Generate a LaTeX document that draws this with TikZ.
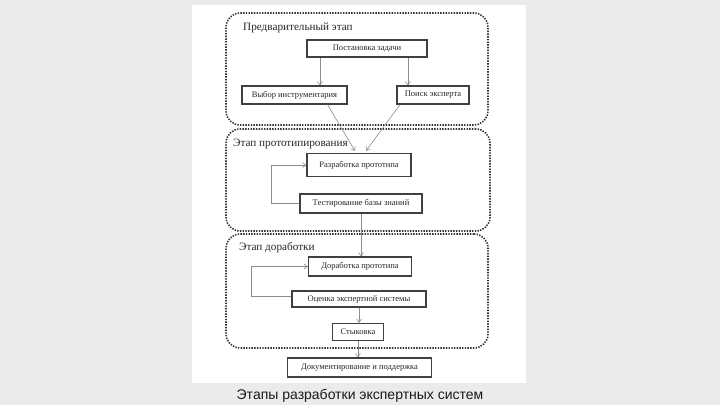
\documentclass[tikz,border=0pt]{standalone}
\usepackage{fontspec}
\setmainfont{Liberation Serif}
\newfontfamily\capfont{Liberation Sans}
\usetikzlibrary{arrows.meta}
\definecolor{slidegray}{HTML}{EBEBEB}

\begin{document}
\begin{tikzpicture}
      [x=1pt, y=-1pt,
      box/.style={draw=black!75, line width=1.1pt, fill=white, inner sep=0pt, font=\fontsize{8.5}{10}\selectfont, text=black!85},
      stage/.style={draw=black!80, line width=1.6pt, dash pattern=on 1.4pt off 1.3pt, rounded corners=14pt, inner sep=0pt},
      stagename/.style={anchor=west, inner sep=0pt, font=\fontsize{11.2}{13}\selectfont, text=black!85},
      link/.style={draw=black!45, line width=0.6pt, -{Straight Barb[length=3.5pt,width=5pt]}},
      ]
      \useasboundingbox[fill=slidegray] (0,0) rectangle (720,405);
      \fill[white] (192,5) rectangle (526,383);
      % stages
      \node[stage, minimum width=262, minimum height=112] (pre) at (357,69) {};
      \node[stage, minimum width=264, minimum height=102] (proto) at (358,180) {};
      \node[stage, minimum width=262, minimum height=114] (refine) at (357,291) {};
      \node[stagename] (prename) at (243,28) {Предварительный этап};
      \node[stagename] (protoname) at (233,144) {Этап прототипирования};
      \node[stagename] (refinename) at (239,248) {Этап доработки};
      % steps
      \node[box, minimum width=120, minimum height=17] (task) at (367,48.5) {Постановка задачи};
      \node[box, minimum width=105, minimum height=18] (tools) at (294.5,95) {Выбор инструментария};
      \node[box, minimum width=72, minimum height=18] (expert) at (433,95) {Поиск эксперта};
      \node[box, minimum width=104, minimum height=23] (dev) at (359,165) {Разработка прототипа};
      \node[box, minimum width=122, minimum height=19] (test) at (361,203.5) {Тестирование базы знаний};
      \node[box, minimum width=103, minimum height=19] (rework) at (360,266.5) {Доработка прототипа};
      \node[box, minimum width=134, minimum height=16] (eval) at (359,299) {Оценка экспертной системы};
      \node[box, minimum width=51, minimum height=17] (join) at (358,332) {Стыковка};
      \node[box, minimum width=144, minimum height=19] (docs) at (359.5,367.5) {Документирование и поддержка};
      % links
      \draw[link] ([xshift=-47pt]task.south) -- ([xshift=-47pt]task.south |- tools.north);
      \draw[link] ([xshift=41pt]task.south) -- ([xshift=41pt]task.south |- expert.north);
      \draw[link] ([xshift=33pt]tools.south) -- ([xshift=-4pt,yshift=2pt]dev.north);
      \draw[link] ([xshift=-33pt]expert.south) -- ([xshift=7pt,yshift=2pt]dev.north);
      \draw[link] (test.west) -| ([xshift=-35pt]dev.west) -- (dev.west);
      \draw[link] (test.south) -- (test.south |- rework.north);
      \draw[link] ([yshift=3pt]eval.west) -| ([xshift=-57pt]rework.west) -- (rework.west);
      \draw[link] (eval.south) -- (eval.south |- join.north);
      \draw[link] (join.south) -- (join.south |- docs.north);
      \node[font=\capfont\fontsize{14}{16}\selectfont, text=black!90] (caption) at (360,396) {Этапы разработки экспертных систем};
\end{tikzpicture}
\end{document}
